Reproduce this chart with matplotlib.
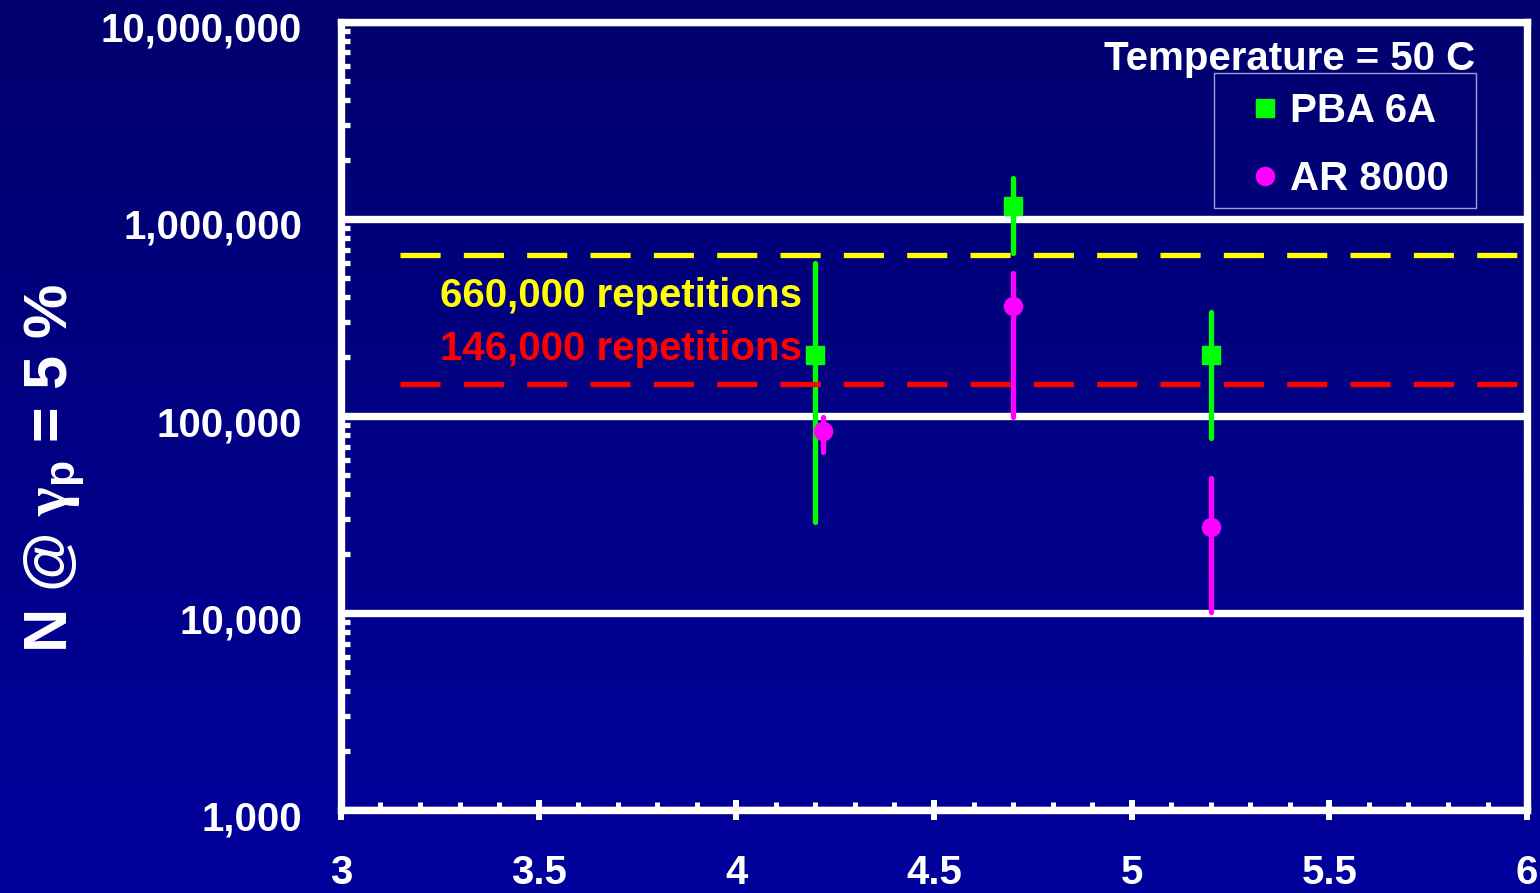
import numpy as np
import matplotlib
matplotlib.use('Agg')
import matplotlib.pyplot as plt
from matplotlib.colors import LinearSegmentedColormap
from matplotlib.patches import Rectangle
from matplotlib.transforms import ScaledTranslation
from matplotlib.ticker import MultipleLocator, LogLocator, NullFormatter

plt.rcParams['font.family'] = ['Liberation Sans', 'DejaVu Sans']
plt.rcParams['font.weight'] = 'bold'
plt.rcParams['mathtext.fontset'] = 'custom'
plt.rcParams['mathtext.rm'] = 'Liberation Sans'
plt.rcParams['mathtext.it'] = 'Liberation Serif'
plt.rcParams['mathtext.bf'] = 'Liberation Sans:bold'

# PBA 6A (green squares) : point, lower and upper end of bar
pba_x = [4.2, 4.7, 5.2]
pba_y = [204000, 1160000, 204000]
pba_lo = [29000, 671000, 77000]
pba_hi = [598000, 1610000, 337000]

# AR 8000 (magenta circles)
ar_x = [4.22, 4.7, 5.2]
ar_y = [84000, 363000, 27400]
ar_lo = [66000, 99000, 10100]
ar_hi = [99000, 532000, 48400]

# reference levels
ref_levels = [660000, 146000]
ref_labels = ['660,000 repetitions', '146,000 repetitions']
ref_colors = ['#FFFF00', '#FF0000']
ref_x = [3.15, 6.0]

y_ticks = [1e3, 1e4, 1e5, 1e6, 1e7]
y_ticklabels = ['1,000', '10,000', '100,000', '1,000,000', '10,000,000']
x_ticks = [3, 3.5, 4, 4.5, 5, 5.5, 6]
x_ticklabels = ['3', '3.5', '4', '4.5', '5', '5.5', '6']

green = '#00FF00'
magenta = '#FF00FF'
fs = 29

fig = plt.figure(figsize=(15.4, 8.93), dpi=100)

# fond degrade bleu
bg = fig.add_axes([0, 0, 1, 1])
cmap = LinearSegmentedColormap.from_list('bg', ['#00006E', '#00009C'])
grad = np.linspace(0, 1, 256).reshape(-1, 1)
bg.imshow(grad, aspect='auto', cmap=cmap, extent=[0, 1, 0, 1], origin='upper')
bg.axis('off')

ax = fig.add_axes([0.2214, 0.0929, 0.7702, 0.8825])
ax.set_facecolor('none')
ax.set_yscale('log')
ax.set_xlim(3, 6)
ax.set_ylim(1e3, 1e7)

for s in ax.spines.values():
    s.set_color('white')
    s.set_linewidth(5.3)

ax.yaxis.grid(True, which='major', color='white', lw=5.3, zorder=1)
ax.set_axisbelow(True)

ax.set_yticks(y_ticks, labels=y_ticklabels)
ax.set_xticks(x_ticks, labels=x_ticklabels)
ax.xaxis.set_minor_locator(MultipleLocator(0.1))
ax.yaxis.set_minor_locator(LogLocator(base=10, subs=np.arange(2, 10)))
ax.yaxis.set_minor_formatter(NullFormatter())

ax.tick_params(axis='x', which='major', direction='inout', length=15, width=4.3,
               colors='white', labelsize=fs, pad=24)
ax.tick_params(axis='x', which='minor', direction='in', length=6, width=3.6, colors='white')
ax.tick_params(axis='y', which='major', length=0, colors='white', labelsize=fs, pad=28)
ax.tick_params(axis='y', which='minor', direction='in', length=6.5, width=3.8, colors='white')

# decale les etiquettes y un peu vers le bas
shift = ScaledTranslation(0, -0.05, fig.dpi_scale_trans)
for lab in ax.get_yticklabels():
    lab.set_transform(lab.get_transform() + shift)

# barres
bars = ax.vlines(pba_x, pba_lo, pba_hi, color=green, lw=3.8, zorder=3)
bars.set_capstyle('round')
bars = ax.vlines(ar_x, ar_lo, ar_hi, color=magenta, lw=3.8, zorder=3)
bars.set_capstyle('round')
ax.plot(pba_x, pba_y, 's', ms=13, color=green, zorder=4, label='PBA 6A')
ax.plot(ar_x, ar_y, 'o', ms=13, color=magenta, zorder=4, label='AR 8000')

# lignes de reference
for lvl, lab, c, ty in zip(ref_levels, ref_labels, ref_colors, [0.638, 0.571]):
    ax.plot(ref_x, [lvl, lvl], color=c, lw=3.8, linestyle=(0, (7.6, 4.4)),
            zorder=5, clip_on=False)
    ax.text(0.0835, ty, lab, transform=ax.transAxes, color=c, fontsize=fs,
            fontweight='bold', va='baseline', ha='left', zorder=6)

# legende sans cadre + cadre dessine a part
leg = ax.legend(loc='upper left', bbox_to_anchor=(1253 / 1540, 1 - 92 / 893),
                bbox_transform=fig.transFigure, borderaxespad=0, borderpad=0,
                frameon=False, fontsize=fs, labelcolor='white',
                handlelength=0.6, handletextpad=0.33, labelspacing=0.75, numpoints=1)
fig.patches.append(Rectangle((1214 / 1540, 1 - 208 / 893), 262 / 1540, 135 / 893,
                             transform=fig.transFigure, fill=False,
                             edgecolor='#A0A0D0', linewidth=1))

fig.text(1475 / 1540, 1 - 70 / 893, 'Temperature = 50 C', ha='right', va='baseline',
         color='white', fontsize=fs, fontweight='bold')

fig.text(55 / 1540, 1 - 468 / 893, r'N @ $\gamma_{\mathrm{p}}$ = 5 %', rotation=90,
         ha='center', va='center', color='white', fontsize=44, fontweight='bold')

fig.savefig('out.png', dpi=100)
